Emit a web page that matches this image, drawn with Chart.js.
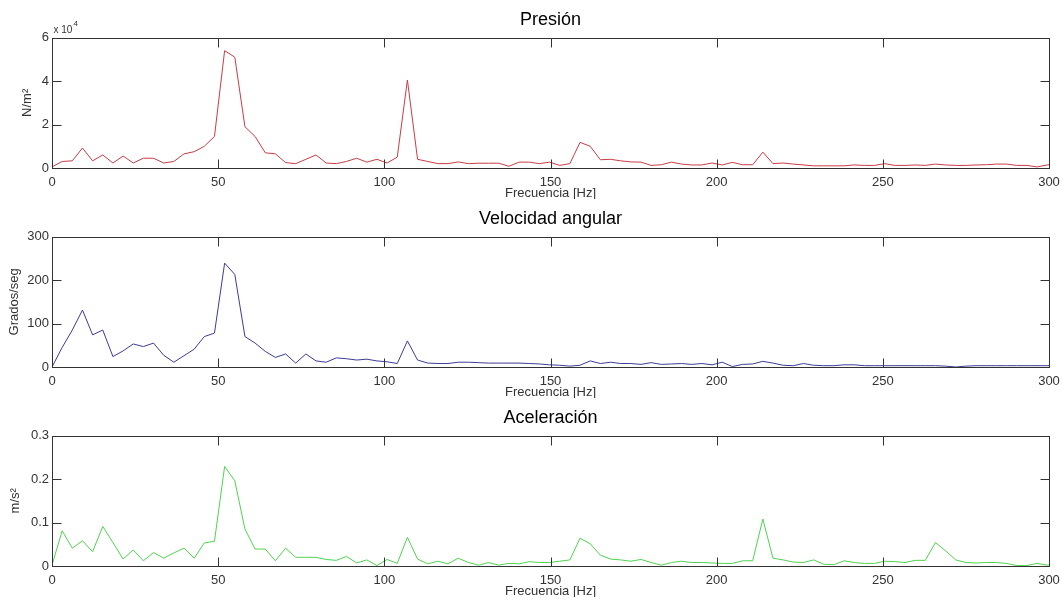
<!DOCTYPE html>
<html>
<head>
<meta charset="utf-8">
<script src="https://cdn.jsdelivr.net/npm/chart.js@4.4.0/dist/chart.umd.min.js"></script>
<style>
body{margin:0;background:#fff;}
.panel{position:absolute;left:0;width:1062px;height:199px;}
</style>
</head>
<body>
<div class="panel" style="top:0px"><canvas id="c1" width="1062" height="199"></canvas></div>
<div class="panel" style="top:199px"><canvas id="c2" width="1062" height="199"></canvas></div>
<div class="panel" style="top:398px"><canvas id="c3" width="1062" height="199"></canvas></div>
<script>
// frequency bin width of the FFT (Hz)
var df = 3.0556;

// Presion, N/m^2
var presion = [500,3000,3300,9200,3300,6000,2300,5500,2300,4500,
  4500,2300,3000,6500,7500,10000,14500,54000,51000,19000,
  14500,7000,6500,2500,2000,4000,6000,2300,2000,3000,
  4500,2700,4000,2300,5000,40500,4000,3000,2000,2000,
  2800,2000,2200,2200,2200,800,2700,2700,2000,2700,
  1200,2000,11800,10000,3800,4000,3300,2800,2700,1200,
  1500,2700,1800,1400,1400,2300,1400,2600,1500,1500,
  7300,2000,2300,1800,1400,1000,1000,1000,1000,1400,
  1200,1200,2000,1200,1200,1400,1200,1800,1400,1200,
  1200,1400,1500,1800,1800,1200,1200,500,1400,2000];

// Velocidad angular, grados/seg
var velocidad = [0,45,85,131,74,85,24,37,53,47,
  55,27,11,26,41,70,78,239,213,70,
  55,36,22,30,9,30,14,11,21,19,
  16,18,14,12,8,60,16,9,8,8,
  11,11,10,9,9,9,9,8,7,5,
  4,2,4,14,8,11,8,8,6,10,
  6,7,8,6,8,5,11,1,6,7,
  13,9,4,3,8,4,3,3,5,5,
  3,3,3,3,3,3,3,3,2,0,
  2,3,3,3,3,3,3,3,3,3];

// Aceleracion, m/s^2
var aceleracion = [0.002,0.081,0.041,0.058,0.033,0.091,0.054,0.016,0.037,0.012,
  0.031,0.018,0.030,0.041,0.018,0.053,0.057,0.229,0.196,0.085,
  0.039,0.039,0.012,0.041,0.020,0.020,0.020,0.015,0.013,0.022,
  0.007,0.014,0.001,0.015,0.006,0.066,0.016,0.005,0.011,0.005,
  0.018,0.008,0.002,0.008,0.002,0.006,0.005,0.010,0.008,0.008,
  0.011,0.014,0.064,0.051,0.025,0.016,0.014,0.011,0.015,0.008,
  0.002,0.008,0.011,0.008,0.008,0.007,0.006,0.006,0.012,0.012,
  0.108,0.018,0.014,0.009,0.008,0.014,0.004,0.003,0.012,0.008,
  0.006,0.006,0.011,0.010,0.008,0.013,0.013,0.054,0.035,0.014,
  0.008,0.007,0.008,0.008,0.006,0.001,0.001,0.006,0.002,0.005];

var xTicks = [0,50,100,150,200,250,300];

function toPoints(vals){
  var pts=[];
  for(var i in vals){
    pts.push({x:i*df, y:vals[i]});
  }
  return pts;
}

// box around the plot and inward tick marks, like matlab axes
var boxPlugin = {
  id:'matlabBox',
  afterDatasetsDraw:function(chart){
    var ctx=chart.ctx, a=chart.chartArea;
    var L=Math.round(a.left)+0.5, R=Math.round(a.right)+0.5, T=Math.round(a.top)+0.5, B=Math.round(a.bottom)+0.5;
    ctx.save();
    ctx.strokeStyle='#333';
    ctx.lineWidth=1;
    ctx.strokeRect(L,T,R-L,B-T);
    ctx.beginPath();
    chart.scales.x.ticks.forEach(function(t){
      var p=Math.round(chart.scales.x.getPixelForValue(t.value))+0.5;
      ctx.moveTo(p,B); ctx.lineTo(p,B-9);
      ctx.moveTo(p,T); ctx.lineTo(p,T+9);
    });
    chart.scales.y.ticks.forEach(function(t){
      var p=Math.round(chart.scales.y.getPixelForValue(t.value))+0.5;
      ctx.moveTo(L,p); ctx.lineTo(L+9,p);
      ctx.moveTo(R,p); ctx.lineTo(R-9,p);
    });
    ctx.stroke();
    if(chart.options.plugins.matlabBox.exponent){
      ctx.fillStyle='#333';
      ctx.font='10px "Liberation Sans", Arial';
      ctx.textBaseline='alphabetic';
      ctx.fillText('x 10',L+1,T-6);
      ctx.font='8px "Liberation Sans", Arial';
      ctx.fillText('4',L+21,T-13);
    }
    ctx.restore();
  }
};

function makeChart(id, title, yLabel, yTitlePad, vals, color, yMax, yStep, fmt, exponent){
  var ctx=document.getElementById(id);
  return new Chart(ctx,{
    type:'line',
    data:{
      datasets:[{
        data:toPoints(vals),
        borderColor:color,
        borderWidth:1,
        pointRadius:0,
        tension:0,
        fill:false
      }]
    },
    options:{
      responsive:false,
      animation:false,
      layout:{padding:{left:0,right:13,top:0,bottom:0}},
      plugins:{
        legend:{display:false},
        tooltip:{enabled:false},
        title:{
          display:true,
          fullSize:false,
          text:title,
          color:'#000',
          font:{family:'"Liberation Sans", Arial',size:18,weight:'normal'},
          padding:{top:9,bottom:7}
        },
        matlabBox:{exponent:exponent}
      },
      scales:{
        x:{
          type:'linear',
          min:0,max:300,
          afterBuildTicks:function(s){ s.ticks=xTicks.map(function(v){return {value:v};}); },
          afterFit:function(s){ s.height=31; s.paddingLeft=0; s.paddingRight=0; },
          grid:{display:false,drawTicks:false},
          border:{display:false},
          ticks:{color:'#333',padding:7,maxRotation:0,autoSkip:false,font:{family:'"Liberation Sans", Arial',size:13}},
          title:{display:true,text:'Frecuencia [Hz]',color:'#333',padding:{top:0,bottom:-2},font:{family:'"Liberation Sans", Arial',size:13}}
        },
        y:{
          min:0,max:yMax,
          ticks:{stepSize:yStep,color:'#333',padding:3,callback:fmt,font:{family:'"Liberation Sans", Arial',size:13}},
          afterFit:function(s){ s.width=52; s.paddingTop=0; s.paddingBottom=0; },
          grid:{display:false,drawTicks:false},
          border:{display:false},
          title:{display:true,text:yLabel,color:'#333',padding:{top:yTitlePad,bottom:0},font:{family:'"Liberation Sans", Arial',size:13}}
        }
      }
    },
    plugins:[boxPlugin]
  });
}

makeChart('c1','Presión','N/m²',20,presion,'rgb(200,60,70)',60000,20000,function(v){return v/10000;},true);
makeChart('c2','Velocidad angular','Grados/seg',7,velocidad,'rgb(60,60,150)',300,100,function(v){return v;},false);
makeChart('c3','Aceleración','m/s²',8,aceleracion,'rgb(80,210,80)',0.3,0.1,function(v){return +v.toFixed(1);},false);
</script>
</body>
</html>
